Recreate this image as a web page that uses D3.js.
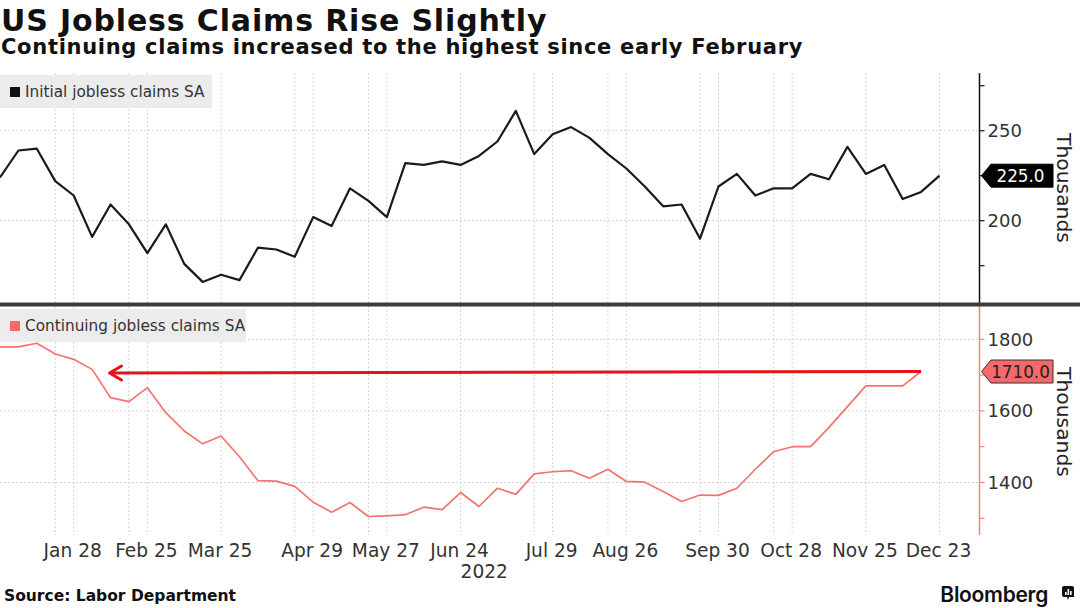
<!DOCTYPE html>
<html>
<head>
<meta charset="utf-8">
<script src="https://cdn.jsdelivr.net/npm/d3@7"></script>
<style>
  body { margin: 0; background: #fff; }
  svg { display: block; }
  .lbl { font-family: "DejaVu Sans", "Liberation Sans", sans-serif; }
</style>
</head>
<body>
<svg width="1080" height="608"></svg>
<script>
// weekly dates (Friday) used by both series
var weeks = ["2021-12-31", "2022-01-07", "2022-01-14", "2022-01-21", "2022-01-28",
    "2022-02-04", "2022-02-11", "2022-02-18", "2022-02-25", "2022-03-04", "2022-03-11",
    "2022-03-18", "2022-03-25", "2022-04-01", "2022-04-08", "2022-04-15", "2022-04-22",
    "2022-04-29", "2022-05-06", "2022-05-13", "2022-05-20", "2022-05-27", "2022-06-03",
    "2022-06-10", "2022-06-17", "2022-06-24", "2022-07-01", "2022-07-08", "2022-07-15",
    "2022-07-22", "2022-07-29", "2022-08-05", "2022-08-12", "2022-08-19", "2022-08-26",
    "2022-09-02", "2022-09-09", "2022-09-16", "2022-09-23", "2022-09-30", "2022-10-07",
    "2022-10-14", "2022-10-21", "2022-10-28", "2022-11-04", "2022-11-11", "2022-11-18",
    "2022-11-25", "2022-12-02", "2022-12-09", "2022-12-16", "2022-12-23"];

// initial jobless claims SA, thousands
var initialClaims = [224, 239, 240, 222, 214, 191, 209, 198, 182, 198, 176, 166, 170,
    167, 185, 184, 180, 202, 197, 218, 211, 202, 232, 231, 233, 231, 236, 244, 261,
    237, 248, 252, 246, 237, 229, 219, 208, 209, 190, 219, 226, 214, 218, 218, 226,
    223, 241, 226, 231, 212, 216, 225];

// continuing jobless claims SA, thousands (one week behind)
var continuingClaims = [1779, 1779, 1789, 1759, 1744, 1716, 1637, 1626, 1665, 1595,
    1544, 1508, 1530, 1472, 1405, 1404, 1389, 1345, 1317, 1344, 1305, 1307, 1310,
    1331, 1324, 1372, 1333, 1384, 1367, 1424, 1430, 1433, 1412, 1437, 1403, 1401,
    1375, 1347, 1365, 1364, 1384, 1437, 1486, 1500, 1500, 1554, 1612, 1670, 1670,
    1670, 1710];

var tickDates = ["2022-01-28", "2022-02-25", "2022-03-25", "2022-04-29", "2022-05-27",
    "2022-06-24", "2022-07-29", "2022-08-26", "2022-09-30", "2022-10-28", "2022-11-25",
    "2022-12-23"];
var tickLabels = ["Jan 28", "Feb 25", "Mar 25", "Apr 29", "May 27", "Jun 24", "Jul 29",
    "Aug 26", "Sep 30", "Oct 28", "Nov 25", "Dec 23"];
var gridDates = ["2022-01-21", "2022-01-28", "2022-02-18", "2022-02-25", "2022-03-25",
    "2022-04-22", "2022-04-29", "2022-05-20", "2022-05-27", "2022-06-24", "2022-07-22",
    "2022-07-29", "2022-08-19", "2022-08-26", "2022-09-23", "2022-09-30", "2022-10-21",
    "2022-10-28", "2022-11-25", "2022-12-23"];

var topTicks = [175, 200, 225, 250, 275];
var topLabels = [200, 250];
var botTicks = [1300, 1400, 1500, 1600, 1700, 1800];
var botLabels = [1400, 1600, 1800];

var parse = d3.timeParse("%Y-%m-%d");
var svg = d3.select("svg");
var axisX = 979.5;

var x = d3.scaleTime()
    .domain([parse("2021-12-31"), parse("2023-01-07")])
    .range([0, 979]);
var yTop = d3.scaleLinear().domain([200, 250]).range([220.7, 130.7]);
var yBot = d3.scaleLinear().domain([1400, 1800]).range([482.5, 339.3]);

var panels = [
    { y0: 73, y1: 303, scale: yTop, ticks: topTicks, labels: topLabels, axisColor: "#111" },
    { y0: 306, y1: 535, scale: yBot, ticks: botTicks, labels: botLabels, axisColor: "#f08585" }
];

// grids
panels.forEach(function (p) {
    svg.append("g").selectAll("line")
        .data(gridDates.map(parse))
        .enter().append("line")
        .attr("x1", function (d) { return x(d); })
        .attr("x2", function (d) { return x(d); })
        .attr("y1", p.y0).attr("y2", p.y1)
        .attr("stroke", "#d4d4d4").attr("stroke-dasharray", "2,2");
    svg.append("g").selectAll("line")
        .data(p.labels)
        .enter().append("line")
        .attr("x1", 0).attr("x2", axisX)
        .attr("y1", function (d) { return p.scale(d); })
        .attr("y2", function (d) { return p.scale(d); })
        .attr("stroke", "#d4d4d4").attr("stroke-dasharray", "2,2");
});

// legends
var legends = [
    { y: 75, w: 212, h: 33, color: "#111", text: "Initial jobless claims SA" },
    { y: 309, w: 246, h: 33, color: "#f46a6a", text: "Continuing jobless claims SA" }
];
legends.forEach(function (l) {
    svg.append("rect").attr("x", 0).attr("y", l.y).attr("width", l.w).attr("height", l.h)
        .attr("fill", "#ececec");
    svg.append("rect").attr("x", 10).attr("y", l.y + 12).attr("width", 10).attr("height", 10)
        .attr("fill", l.color);
    svg.append("text").attr("class", "lbl").attr("x", 25).attr("y", l.y + 22)
        .attr("font-size", 15.3).attr("fill", "#333").text(l.text);
});

// series lines
var topLine = d3.line()
    .x(function (d, i) { return x(parse(weeks[i])); })
    .y(function (d) { return yTop(d); });
svg.append("path").datum(initialClaims)
    .attr("d", topLine).attr("fill", "none")
    .attr("stroke", "#1a1a1a").attr("stroke-width", 2.2).attr("stroke-linejoin", "round");

var botLine = d3.line()
    .x(function (d, i) { return x(parse(weeks[i])); })
    .y(function (d) { return yBot(d); });
svg.append("path").datum(continuingClaims)
    .attr("d", botLine).attr("fill", "none")
    .attr("stroke", "#f47272").attr("stroke-width", 1.7).attr("stroke-linejoin", "round");

// red annotation arrow back to early February
var lastCont = continuingClaims[continuingClaims.length - 1];
var ay = yBot(lastCont);
var tipX = x(parse("2022-02-11")) - 1;
var endX = x(parse(weeks[continuingClaims.length - 1]));
svg.append("line").attr("x1", tipX).attr("x2", endX).attr("y1", ay + 1.5).attr("y2", ay)
    .attr("stroke", "#e3121b").attr("stroke-width", 3);
svg.append("path")
    .attr("d", "M" + (tipX + 12) + "," + (ay - 5.5) + "L" + tipX + "," + (ay + 1.5) +
        "L" + (tipX + 12) + "," + (ay + 8.5))
    .attr("fill", "none").attr("stroke", "#e3121b").attr("stroke-width", 3)
    .attr("stroke-linecap", "round").attr("stroke-linejoin", "round");

// y axes
panels.forEach(function (p) {
    svg.append("line").attr("x1", axisX).attr("x2", axisX).attr("y1", p.y0).attr("y2", p.y1)
        .attr("stroke", p.axisColor).attr("stroke-width", 1.5);
    svg.append("g").selectAll("line")
        .data(p.ticks)
        .enter().append("line")
        .attr("x1", axisX).attr("x2", axisX + 5)
        .attr("y1", function (d) { return p.scale(d); })
        .attr("y2", function (d) { return p.scale(d); })
        .attr("stroke", p.axisColor).attr("stroke-width", 1.2);
    svg.append("g").selectAll("text")
        .data(p.labels)
        .enter().append("text")
        .attr("class", "lbl")
        .attr("x", axisX + 8)
        .attr("y", function (d) { return p.scale(d) + 6.5; })
        .attr("font-size", 18).attr("fill", "#333")
        .text(function (d) { return d; });
});

// separator between panels
svg.append("line").attr("x1", 0).attr("x2", 1080).attr("y1", 304.5).attr("y2", 304.5)
    .attr("stroke", "#3c3c3c").attr("stroke-width", 4);

// last value tags
function tag(yc, label, fill, textColor, stroke) {
    var h = 23, x0 = 981.5, x1 = 991, x2 = 1053;
    svg.append("path")
        .attr("d", "M" + x0 + "," + yc + "L" + x1 + "," + (yc - h / 2) + "L" + x2 + "," +
            (yc - h / 2) + "L" + x2 + "," + (yc + h / 2) + "L" + x1 + "," + (yc + h / 2) + "Z")
        .attr("fill", fill).attr("stroke", stroke).attr("stroke-width", 1);
    svg.append("text").attr("class", "lbl")
        .attr("x", (x1 + x2) / 2 - 1.5).attr("y", yc + 6.2)
        .attr("text-anchor", "middle").attr("font-size", 16.8).attr("fill", textColor)
        .text(label);
}
tag(yTop(initialClaims[initialClaims.length - 1]),
    d3.format(".1f")(initialClaims[initialClaims.length - 1]), "#000", "#fff", "#000");
tag(yBot(lastCont), d3.format(".1f")(lastCont), "#f46a6a", "#222", "#333");

// unit labels
[188, 422].forEach(function (cy) {
    svg.append("text").attr("class", "lbl")
        .attr("transform", "translate(1057," + cy + ") rotate(90)")
        .attr("text-anchor", "middle").attr("font-size", 20.3).attr("fill", "#222")
        .text("Thousands");
});

// x axis labels
svg.append("g").selectAll("text")
    .data(tickDates)
    .enter().append("text")
    .attr("class", "lbl")
    .attr("x", function (d) { return x(parse(d)) - 1; })
    .attr("y", 557)
    .attr("text-anchor", "middle").attr("font-size", 18.6).attr("fill", "#333")
    .text(function (d, i) { return tickLabels[i]; });
svg.append("text").attr("class", "lbl")
    .attr("x", x(parse("2022-07-03"))).attr("y", 578)
    .attr("text-anchor", "middle").attr("font-size", 18.6).attr("fill", "#333")
    .text("2022");

// titles
svg.append("text").attr("x", 1).attr("y", 31)
    .attr("font-family", "DejaVu Sans").attr("font-weight", "bold")
    .attr("font-size", 30).attr("letter-spacing", 0.85).attr("fill", "#111")
    .text("US Jobless Claims Rise Slightly");
svg.append("text").attr("x", 1).attr("y", 54)
    .attr("font-family", "DejaVu Sans").attr("font-weight", "bold")
    .attr("font-size", 21).attr("letter-spacing", 0.7).attr("fill", "#111")
    .text("Continuing claims increased to the highest since early February");

// footer
svg.append("text").attr("x", 4).attr("y", 601)
    .attr("font-family", "DejaVu Sans").attr("font-weight", "bold")
    .attr("font-size", 15.5).attr("fill", "#111")
    .text("Source: Labor Department");
svg.append("text").attr("x", 1048).attr("y", 602).attr("text-anchor", "end")
    .attr("font-family", "Inter, Roboto, sans-serif").attr("font-weight", 600)
    .attr("font-size", 21).attr("fill", "#111").attr("letter-spacing", -0.3)
    .text("Bloomberg");
var logo = svg.append("g").attr("transform", "translate(1062,586)");
logo.append("path").attr("d", "M0,2Q0,0 2,0L10,0Q12,0 12,2L12,11L7,11L6,14L5,11L2,11Q0,11 0,9Z")
    .attr("fill", "#111");
[[3, 6, 3], [5.5, 3, 6], [8, 5, 4]].forEach(function (b) {
    logo.append("rect").attr("x", b[0]).attr("y", b[1]).attr("width", 1.6).attr("height", b[2])
        .attr("fill", "#fff");
});
</script>
</body>
</html>
